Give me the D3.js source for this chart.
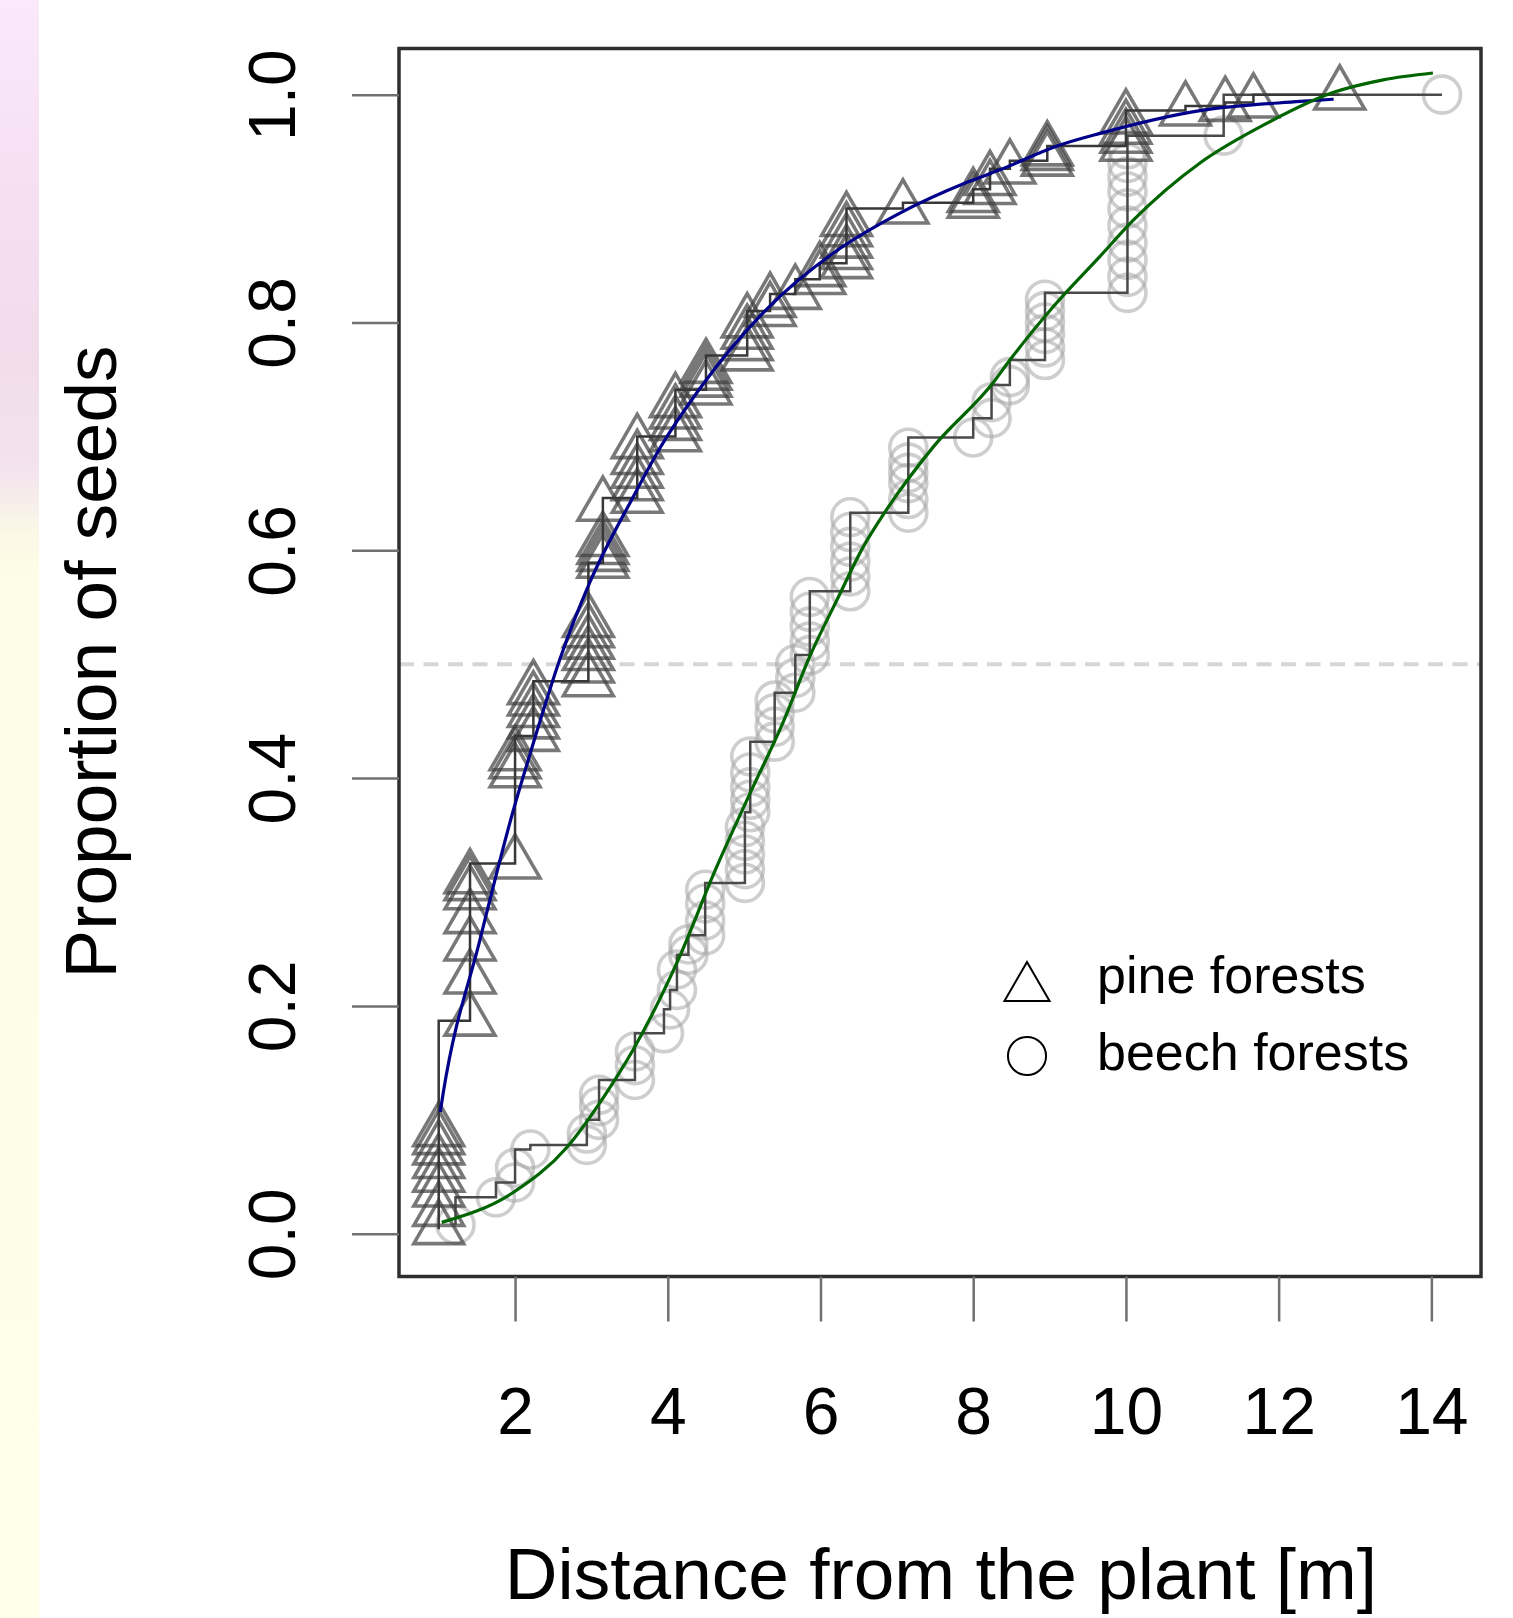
<!DOCTYPE html>
<html>
<head>
<meta charset="utf-8">
<script src="https://cdn.jsdelivr.net/npm/d3@7"></script>
<style>
  html, body { margin: 0; padding: 0; background: #ffffff; }
  #strip {
    position: absolute; left: 0; top: 0; width: 39px; height: 1618px;
    background: linear-gradient(to bottom, #fbe8fb 0%, #f5e0f2 12%, #f1dcec 22%, #f3e3ee 29%, #fbf8e6 33%, #fefee6 36%, #ffffea 100%);
  }
  svg { position: absolute; left: 0; top: 0; }
</style>
</head>
<body>
<div id="strip"></div>
<svg id="chart" width="1513" height="1618"></svg>
<script>
// Cumulative proportion of seeds against distance from the parent plant.
const pineDistance = [
  1.0, 1.0, 1.0, 1.0, 1.0, 1.0, 1.0, 1.0,
  1.41, 1.41, 1.41, 1.41, 1.41, 1.41, 1.41,
  2.0, 2.0, 2.0, 2.0,
  2.24, 2.24, 2.24, 2.24, 2.24,
  2.96, 2.96, 2.96, 2.96, 2.96, 2.96,
  3.15, 3.15, 3.15, 3.15, 3.15,
  3.6, 3.6, 3.6, 3.6, 3.6,
  4.1, 4.1, 4.1, 4.1,
  4.5, 4.5, 4.5, 4.5,
  5.04, 5.04, 5.04, 5.04,
  5.34, 5.34,
  5.67,
  5.99, 5.99,
  6.34, 6.34, 6.34, 6.34, 6.34,
  7.08,
  8.0, 8.0,
  8.22, 8.22,
  8.48,
  8.97, 8.97, 8.97,
  10.0, 10.0, 10.0, 10.0,
  10.78, 11.3, 11.67, 12.8
];
const pineProportion = [
  0.004, 0.02, 0.037, 0.05, 0.062, 0.074, 0.083, 0.09,
  0.187, 0.224, 0.253, 0.277, 0.298, 0.306, 0.312,
  0.325, 0.405, 0.413, 0.42,
  0.437, 0.448, 0.458, 0.468, 0.478,
  0.485, 0.497, 0.508, 0.518, 0.528, 0.537,
  0.589, 0.595, 0.601, 0.608, 0.639,
  0.646, 0.657, 0.668, 0.68, 0.694,
  0.70, 0.71, 0.72, 0.73,
  0.741, 0.748, 0.754, 0.76,
  0.771, 0.78, 0.79, 0.80,
  0.81, 0.818,
  0.825,
  0.838, 0.845,
  0.852, 0.86, 0.87, 0.88, 0.889,
  0.90,
  0.905, 0.91,
  0.917, 0.925,
  0.935,
  0.942, 0.947, 0.951,
  0.955, 0.962, 0.97, 0.979,
  0.986, 0.99, 0.993, 1.0
];

const beechDistance = [
  1.22,
  1.75,
  2.0, 2.0,
  2.2,
  2.94, 2.94,
  3.1, 3.1, 3.1,
  3.57, 3.57, 3.57,
  3.95,
  4.03,
  4.12, 4.12,
  4.27, 4.27,
  4.49, 4.49, 4.49, 4.49,
  5.01, 5.01, 5.01, 5.01, 5.01,
  5.08, 5.08, 5.08, 5.08, 5.08,
  5.4, 5.4, 5.4, 5.4,
  5.67, 5.67, 5.67,
  5.86, 5.86, 5.86, 5.86, 5.86,
  6.39, 6.39, 6.39, 6.39, 6.39, 6.39,
  7.15, 7.15, 7.15, 7.15, 7.15, 7.15,
  8.0,
  8.24, 8.24,
  8.48, 8.48,
  8.94, 8.94, 8.94, 8.94, 8.94, 8.94,
  10.02, 10.02, 10.02, 10.02, 10.02, 10.02, 10.02, 10.02, 10.02, 10.02,
  11.28,
  14.14
];
const beechProportion = [
  0.008,
  0.032,
  0.045, 0.058,
  0.074,
  0.078, 0.088,
  0.10, 0.112, 0.122,
  0.135, 0.148, 0.16,
  0.176,
  0.197,
  0.214, 0.232,
  0.245, 0.254,
  0.262, 0.275, 0.29, 0.302,
  0.308, 0.32, 0.333, 0.345, 0.357,
  0.37, 0.381, 0.392, 0.405, 0.419,
  0.432, 0.445, 0.457, 0.468,
  0.475, 0.488, 0.50,
  0.508, 0.52, 0.533, 0.546, 0.559,
  0.564, 0.577, 0.59, 0.603, 0.616, 0.629,
  0.633, 0.645, 0.659, 0.668, 0.677, 0.69,
  0.699,
  0.716, 0.73,
  0.745, 0.752,
  0.767, 0.778, 0.79, 0.80, 0.81, 0.82,
  0.826, 0.84, 0.855, 0.87, 0.885, 0.90, 0.915, 0.928, 0.94, 0.952,
  0.964,
  1.0
];

// Fitted dispersal curves
const pineFitDistance = [1.02, 1.06, 1.54, 1.97, 2.2, 2.59, 2.98, 3.54, 3.9, 4.42, 5.3, 6.17, 7.04, 7.92, 8.35, 9.1, 9.66, 10.97, 12.28, 12.72];
const pineFitProportion = [0.107, 0.124, 0.258, 0.37, 0.422, 0.505, 0.572, 0.646, 0.69, 0.742, 0.812, 0.861, 0.896, 0.923, 0.934, 0.955, 0.966, 0.986, 0.994, 0.996];
const beechFitDistance = [1.04, 1.97, 2.68, 3.16, 3.55, 4.12, 4.64, 5.08, 5.51, 5.86, 6.22, 6.56, 6.78, 7.48, 8.26, 8.48, 9.05, 9.66, 10.1, 10.97, 11.85, 12.72, 13.37, 14.02];
const beechFitProportion = [0.010, 0.036, 0.076, 0.12, 0.162, 0.238, 0.322, 0.387, 0.449, 0.507, 0.557, 0.603, 0.627, 0.691, 0.747, 0.767, 0.814, 0.858, 0.89, 0.94, 0.975, 1.002, 1.013, 1.019];

const xTicks = [2, 4, 6, 8, 10, 12, 14];
const yTicks = [0, 0.2, 0.4, 0.6, 0.8, 1.0];
const yTickLabels = ["0.0", "0.2", "0.4", "0.6", "0.8", "1.0"];
const seriesNames = ["pine forests", "beech forests"];

const FONT = "'Liberation Sans', Arial, Helvetica, sans-serif";
const svg = d3.select("#chart");

const x = d3.scaleLinear().domain([0.48, 14.65]).range([399, 1481]);
const y = d3.scaleLinear().domain([-0.0375, 1.0405]).range([1276.5, 48.5]);

const pine = d3.zip(pineDistance, pineProportion);
const beech = d3.zip(beechDistance, beechProportion);
const pineFit = d3.zip(pineFitDistance, pineFitProportion);
const beechFit = d3.zip(beechFitDistance, beechFitProportion);

// Reference line at half of the seeds
svg.append("line")
  .attr("x1", x.range()[0]).attr("x2", x.range()[1])
  .attr("y1", y(0.5)).attr("y2", y(0.5))
  .attr("stroke", "#d6d6d6").attr("stroke-width", 4)
  .attr("stroke-dasharray", "15 9.5");

const symbolSize = 1075;
const circleSym = d3.symbol().type(d3.symbolCircle).size(symbolSize)();
const triangleSym = d3.symbol().type(d3.symbolTriangle).size(symbolSize)();

const stepLine = d3.line()
  .x(d => x(d[0])).y(d => y(d[1]))
  .curve(d3.curveStepBefore);

// Beech forests: open circles with their step line
svg.append("g").selectAll("path")
  .data(beech).join("path")
  .attr("d", circleSym)
  .attr("transform", d => `translate(${x(d[0])},${y(d[1])})`)
  .attr("fill", "none")
  .attr("stroke", "rgba(165,165,165,0.55)")
  .attr("stroke-width", 3.6);

svg.append("path")
  .datum(beech)
  .attr("d", stepLine)
  .attr("fill", "none")
  .attr("stroke", "#4a4a4a")
  .attr("stroke-width", 2.5);

// Pine forests: open triangles with their step line
svg.append("g").selectAll("path")
  .data(pine).join("path")
  .attr("d", triangleSym)
  .attr("transform", d => `translate(${x(d[0])},${y(d[1])})`)
  .attr("fill", "none")
  .attr("stroke", "rgba(62,62,62,0.7)")
  .attr("stroke-width", 3.6);

svg.append("path")
  .datum(pine)
  .attr("d", stepLine)
  .attr("fill", "none")
  .attr("stroke", "#383838")
  .attr("stroke-width", 2.5);

// Fitted curves
const smoothLine = d3.line()
  .x(d => x(d[0])).y(d => y(d[1]))
  .curve(d3.curveMonotoneX);

svg.append("path")
  .datum(pineFit)
  .attr("d", smoothLine)
  .attr("fill", "none")
  .attr("stroke", "#00008b")
  .attr("stroke-width", 3.2);

svg.append("path")
  .datum(beechFit)
  .attr("d", smoothLine)
  .attr("fill", "none")
  .attr("stroke", "#006400")
  .attr("stroke-width", 3.2);

// Plot frame
svg.append("rect")
  .attr("x", x.range()[0]).attr("y", y.range()[1])
  .attr("width", x.range()[1] - x.range()[0])
  .attr("height", y.range()[0] - y.range()[1])
  .attr("fill", "none")
  .attr("stroke", "#2e2e2e")
  .attr("stroke-width", 3.5);

// Y axis with rotated labels
const yAxis = svg.append("g")
  .attr("transform", `translate(${x.range()[0]},0)`)
  .call(d3.axisLeft(y).tickValues(yTicks)
    .tickFormat((d, i) => yTickLabels[i])
    .tickSize(47).tickSizeOuter(0));
yAxis.select(".domain").remove();
yAxis.selectAll(".tick line").attr("stroke", "#707070").attr("stroke-width", 2.5);
yAxis.selectAll(".tick text")
  .attr("transform", "rotate(-90)")
  .attr("x", 0).attr("y", -104).attr("dy", 0)
  .attr("text-anchor", "middle")
  .attr("fill", "#000")
  .style("font-family", FONT).style("font-size", "66px");

// X axis
const xAxis = svg.append("g")
  .attr("transform", `translate(0,${y.range()[0]})`)
  .call(d3.axisBottom(x).tickValues(xTicks)
    .tickFormat(d3.format("d"))
    .tickSize(45).tickPadding(66).tickSizeOuter(0));
xAxis.select(".domain").remove();
xAxis.selectAll(".tick line").attr("stroke", "#707070").attr("stroke-width", 2.5);
xAxis.selectAll(".tick text")
  .attr("fill", "#000")
  .style("font-family", FONT).style("font-size", "66px");

// Axis titles
svg.append("text")
  .attr("x", 941).attr("y", 1599)
  .attr("text-anchor", "middle")
  .style("font-family", FONT).style("font-size", "73px")
  .text("Distance from the plant [m]");

svg.append("text")
  .attr("transform", "translate(116,662) rotate(-90)")
  .attr("text-anchor", "middle")
  .style("font-family", FONT).style("font-size", "73px")
  .text("Proportion of seeds");

// Legend
const legend = svg.append("g");
const legendRows = [
  { sym: d3.symbol().type(d3.symbolTriangle).size(880)(), cy: 988, ty: 993 },
  { sym: d3.symbol().type(d3.symbolCircle).size(1140)(), cy: 1056, ty: 1070 }
];
legendRows.forEach((r, i) => {
  legend.append("path")
    .attr("d", r.sym)
    .attr("transform", `translate(1027,${r.cy})`)
    .attr("fill", "none").attr("stroke", "#000").attr("stroke-width", 2);
  legend.append("text")
    .attr("x", 1097).attr("y", r.ty)
    .style("font-family", FONT).style("font-size", "52px")
    .text(seriesNames[i]);
});
</script>
</body>
</html>
